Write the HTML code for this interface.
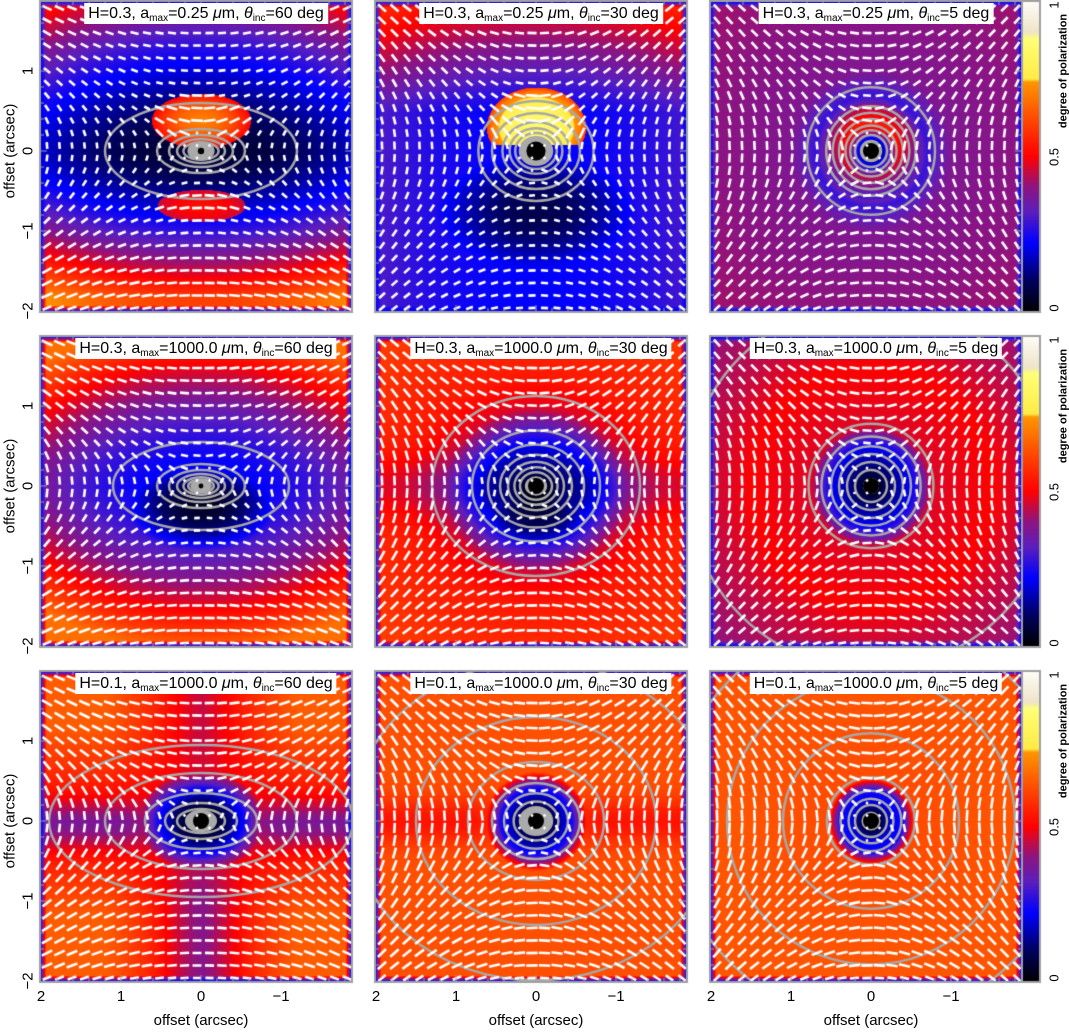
<!DOCTYPE html>
<html><head><meta charset="utf-8">
<style>
html,body{margin:0;padding:0;background:#fff;}
#wrap{position:relative;width:1069px;height:1033px;overflow:hidden;font-family:"Liberation Sans",sans-serif;}
canvas{position:absolute;left:0;top:0;}
.t{position:absolute;white-space:nowrap;color:#000;}
.title{position:absolute;background:#fff;font-size:16px;padding:0 4px;height:21px;line-height:21px;transform:translateX(-50%);white-space:nowrap;}
.title sub{font-size:10px;vertical-align:-3px;line-height:0;}
.xl{font-size:15px;transform:translateX(-50%);}
.yl{font-size:15px;transform:translate(-50%,-50%) rotate(-90deg);}
.cl{font-size:13px;transform:translate(-50%,-50%) rotate(-90deg);}
</style></head><body>
<div id="wrap">
<canvas id="cv" width="1069" height="1033"></canvas>
</div>
<script>
const colX=[40,375,710], rowY=[1,336,671];
const PW=312, PH=311, SC=80, CX=161, CY=150;
const hVals=['0.3','0.3','0.1'];
const amaxVals=['0.25','1000.0','1000.0'];
const incVals=[60,30,5];
const xTicks=[2,1,0,-1];
const yTicks=[1,0,-1,-2];
const cbTicks=['0','0.5','1'];
const profC_r=[0,0.1,0.2,0.33,0.48,0.7,1.0,2.8], profC_p=[0,0.05,0.3,0.5,0.42,0.28,0.38,0.42];
const profE_r=[0,0.12,0.3,0.6,0.85,1.15,1.6,2.8], profE_p=[0,0.03,0.12,0.2,0.3,0.47,0.54,0.6];
const profF_r=[0,0.1,0.3,0.5,0.6,0.75,1.5,2.0,2.8], profF_p=[0,0.05,0.14,0.22,0.3,0.47,0.5,0.45,0.4];
const profG_r=[0,0.12,0.3,0.5,0.7,1.0], profG_p=[0,0.02,0.1,0.25,0.45,1];
const profH_r=[0,0.12,0.3,0.45,0.6,0.8], profH_p=[0,0.02,0.15,0.25,0.5,1];
const profI_r=[0,0.1,0.25,0.4,0.5,0.65], profI_p=[0,0.05,0.2,0.25,0.5,1];
const contourRadii=[[0.15,0.22,0.3,0.4,0.55,1.2],[0.2,0.26,0.33,0.42,0.55,0.72],[0.2,0.26,0.32,0.4,0.48,0.56,0.8],
 [0.08,0.12,0.16,0.22,0.3,0.4,0.55,1.1],[0.2,0.27,0.35,0.45,0.6,0.8,1.3],[0.2,0.3,0.4,0.5,0.62,0.78,2.3],
 [0.18,0.3,0.45,0.7,1.2,1.9],[0.2,0.28,0.4,0.55,0.85,1.5,2.3],[0.2,0.28,0.38,0.55,1.1,1.8,2.5]];
const grayCore=[0.17,0.2,0.14,0.12,0.14,0.1,0.2,0.2,0.12];
const blackCore=[0.04,0.12,0.1,0.03,0.1,0.1,0.1,0.1,0.1];

function interp(xs,ys,x){if(x<=xs[0])return ys[0];for(let i=1;i<xs.length;i++){if(x<=xs[i]){const t=(x-xs[i-1])/(xs[i]-xs[i-1]);return ys[i-1]+t*(ys[i]-ys[i-1]);}}return ys[ys.length-1];}
function sq(a){return a*a;}
const fields=[
 (u,v)=>{const s=v>0?1.9:1.6, amp=v>0?0.38:0.45;
   let b=0.05+amp*Math.pow(Math.min(Math.abs(v)/s,1.15),1.5)+0.12*u*u/3.6;
   const d1=sq(u/0.62)+sq((v-0.38)/0.34); if(d1<1&&v>0.05) b=0.5+0.2*(1-d1);
   const d2=sq(u/0.55)+sq((v+0.68)/0.2); if(d2<1) b=0.45+0.07*(1-d2);
   return b;},
 (u,v)=>{let b=0.22+0.27*Math.max(0,v-0.5)/1.3+0.08*u*u/3.6;
   const d=sq(u/1.0)+sq((v+0.75)/0.55); b-=0.14*Math.max(0,1-d/1.6);
   const d1=sq(u/0.62)+sq((v-0.3)/0.5); if(d1<1&&v>0.08) b=0.55+0.3*Math.sqrt(1-d1);
   return b;},
 (u,v)=>{const r=Math.hypot(u,v);let p=interp(profC_r,profC_p,r);if(r>0.2&&r<0.6)p+=0.06*v/r;return p;},
 (u,v)=>{let b=0.2+0.32*Math.pow(Math.min(Math.abs(v)/1.6,1.2),1.6)+0.16*u*u/3.6;
   const d=sq(u/0.8)+sq((v+0.3)/0.45); b-=0.18*Math.max(0,1-d/1.3);return Math.min(Math.max(b,0.02),0.68);},
 (u,v)=>{const r=Math.hypot(u,(v+0.05)/0.9);let p=interp(profE_r,profE_p,r);p-=0.08*Math.exp(-v*v/0.15)*Math.min(1,Math.abs(u));
   const d=sq(u/0.6)+sq((v+0.45)/0.3);p-=0.08*Math.max(0,1-d);return Math.max(p,0);},
 (u,v)=>interp(profF_r,profF_p,Math.hypot(u,v)),
 (u,v)=>{let b=0.49+0.16*Math.min(1,Math.abs(u)/1.2)*Math.min(1,Math.abs(v)/1.2)
     -0.12*Math.exp(-sq(v+0.05)/0.1)*Math.min(1,Math.abs(u))
     -0.1*Math.exp(-u*u/0.25)*(v<0?Math.min(1,-v):0.4*Math.min(1,v));
   const r=Math.hypot(u/1.1,v/0.85);return Math.min(b,interp(profG_r,profG_p,r));},
 (u,v)=>{let b=0.63-0.1*Math.exp(-v*v/0.08)*Math.min(1,Math.abs(u)/0.8);
   const r=Math.hypot(u,v/0.95);return Math.min(b,interp(profH_r,profH_p,r));},
 (u,v)=>{let b=0.64-0.02*Math.exp(-(u*u+v*v)/1.5);return Math.min(b,interp(profI_r,profI_p,Math.hypot(u,v)));}
];
const stops=[[0,0,0,0],[0.1,0,0,95],[0.22,0,0,255],[0.32,90,30,190],[0.4,140,20,130],[0.5,255,0,0],[0.6,255,60,0],[0.74,255,150,0],[0.75,255,235,70],[0.88,255,255,120],[0.9,238,228,200],[1,255,252,248]];
function cmap(p){p=Math.max(0,Math.min(1,p));for(let i=1;i<stops.length;i++){if(p<=stops[i][0]){const a=stops[i-1],b=stops[i],t=(p-a[0])/(b[0]-a[0]);return [a[1]+t*(b[1]-a[1]),a[2]+t*(b[2]-a[2]),a[3]+t*(b[3]-a[3])];}}return [255,252,248];}

const cv=document.getElementById('cv'),ctx=cv.getContext('2d');
ctx.fillStyle='#fff';ctx.fillRect(0,0,1069,1033);
const img=ctx.getImageData(0,0,1069,1033),D=img.data;
function fieldAt(k,x,y){
  const u=(CX-x)/SC, v=(CY-y)/SC; let p=fields[k](u,v);
  const e=Math.min(x,y,PW-1-x,PH-1-y); if(e<6){const t=1-e/6;p=p*(1-t)+0.2*t;}
  return p;}
for(let r=0;r<3;r++)for(let c=0;c<3;c++){const k=r*3+c,px=colX[c],py=rowY[r];
  for(let y=0;y<PH;y++)for(let x=0;x<PW;x++){const col=cmap(fieldAt(k,x,y));const i=((py+y)*1069+px+x)*4;D[i]=col[0];D[i+1]=col[1];D[i+2]=col[2];D[i+3]=255;}}
for(let r=0;r<3;r++){const py=rowY[r];for(let y=0;y<PH;y++){const col=cmap(1-y/(PH-1));for(let x=1022;x<1040;x++){const i=((py+y)*1069+x)*4;D[i]=col[0];D[i+1]=col[1];D[i+2]=col[2];D[i+3]=255;}}}
ctx.putImageData(img,0,0);

for(let r=0;r<3;r++)for(let c=0;c<3;c++){const k=r*3+c,px=colX[c],py=rowY[r];const cs=Math.cos(incVals[c]*Math.PI/180);
  ctx.save();ctx.beginPath();ctx.rect(px,py,PW,PH);ctx.clip();
  const ox=px+CX,oy=py+CY;
  ctx.strokeStyle='#a8a8a8';ctx.lineWidth=2.5;
  contourRadii[k].forEach(rr=>{ctx.beginPath();ctx.ellipse(ox,oy,rr*SC,rr*SC*cs,0,0,Math.PI*2);ctx.stroke();});
  ctx.fillStyle='#aaaaaa';ctx.beginPath();ctx.ellipse(ox,oy,grayCore[k]*SC,grayCore[k]*SC*Math.max(cs,0.7),0,0,Math.PI*2);ctx.fill();
  ctx.fillStyle='#000';ctx.beginPath();ctx.arc(ox,oy,blackCore[k]*SC,0,Math.PI*2);ctx.fill();
  ctx.strokeStyle='#fff';ctx.lineWidth=2.6;ctx.lineCap='butt';
  for(let j=0;j<25;j++)for(let i=0;i<25;i++){const x=7+i*12.5,y=7+j*12.5;const u=(CX-x)/SC,v=(CY-y)/SC;
    const p=fieldAt(k,x,y);let gx=u,gy=v/Math.pow(cs,1.2);const gl=Math.hypot(gx,gy)||1;let tx=-gy/gl,ty=gx/gl;
    const rr=Math.hypot(u,v);
    let L=Math.max(2.4,Math.min(12.5,5+10*p)); if(rr<0.25) L=2.4;
    ctx.beginPath();ctx.moveTo(px+x-tx*L/2,py+y+ty*L/2);ctx.lineTo(px+x+tx*L/2,py+y-ty*L/2);ctx.stroke();}
  ctx.restore();
  ctx.strokeStyle='#a0a0a0';ctx.lineWidth=2;ctx.strokeRect(px,py,PW,PH);
  ctx.lineWidth=1;ctx.beginPath();
  for(let a=-1.8;a<=2.0001;a+=0.2){const tx=px+CX-a*SC;const big=Math.abs(a-Math.round(a))<0.01;const L=big?7:4;
    if(tx>px+2&&tx<px+PW-2){ctx.moveTo(tx,py+PH);ctx.lineTo(tx,py+PH-L);ctx.moveTo(tx,py);ctx.lineTo(tx,py+L);}
    const ty=py+CY-a*SC; if(ty>py+2&&ty<py+PH-2){ctx.moveTo(px,ty);ctx.lineTo(px+L,ty);ctx.moveTo(px+PW,ty);ctx.lineTo(px+PW-L,ty);}}
  ctx.stroke();
}
for(let r=0;r<3;r++){ctx.strokeStyle='#a0a0a0';ctx.lineWidth=2;ctx.strokeRect(1022,rowY[r],18,PH);}

const wrap=document.getElementById('wrap');
function add(cls,html,x,y,name){const d=document.createElement('div');d.className=cls;d.innerHTML=html;d.style.left=x+'px';d.style.top=y+'px';
  
  
  wrap.appendChild(d);return d;}
for(let r=0;r<3;r++)for(let c=0;c<3;c++){
  add('title','H='+hVals[r]+', a<sub>max</sub>='+amaxVals[r]+' <i>&mu;</i>m, <i>&theta;</i><sub>inc</sub>='+incVals[c]+' deg',colX[c]+166,rowY[r]+2,'panel-title');}
for(let c=0;c<3;c++){xTicks.forEach(t=>{add('t xl',t<0?'\u2212'+(-t):String(t),colX[c]+CX-t*SC,988,'x-tick-label');});
  add('t xl','offset (arcsec)',colX[c]+CX,1012,'x-axis-title');}
for(let r=0;r<3;r++){yTicks.forEach(t=>{add('t yl',t<0?'\u2212'+(-t):String(t),28,rowY[r]+CY-t*SC,'y-tick-label');});
  add('t yl','offset (arcsec)',10,rowY[r]+CY,'y-axis-title');
  cbTicks.forEach((t,i)=>{add('t cl',t,1054,rowY[r]+PH-i*PH/2+(i===0?-4:i===2?4:0),'colorbar-tick-label');});
  add('t cl','<b style="font-size:11px">degree of polarization</b>',1062,rowY[r]+70,'colorbar-title');}
</script>
</body></html>
